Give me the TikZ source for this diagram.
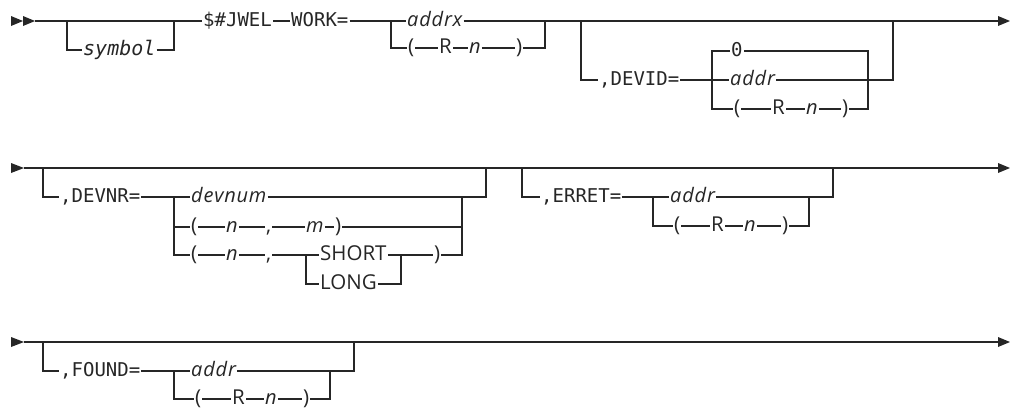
\documentclass[tikz,border=0pt]{standalone}
\usepackage{fontspec}
\setmainfont{Open Sans}
\newfontfamily\monofont{DejaVu Sans Mono}

\begin{document}
\begin{tikzpicture}
		[x=1pt,y=-1pt,line cap=butt,
		%Styles
		rail/.style={line width=1.1pt,draw=railcolor},
		tip/.style={fill=railcolor},
		word/.style={anchor=west,inner xsep=1pt,inner ysep=0pt,text height=11pt,text depth=0pt,text=railcolor},
		key word/.style={word,font={\monofont\fontsize{19}{20}\selectfont}},
		sym word/.style={word,font={\monofont\itshape\fontsize{20}{20}\selectfont}},
		var word/.style={word,font={\itshape\fontsize{20}{20}\selectfont\addfontfeature{LetterSpace=4}}},
		plain word/.style={word,font={\fontsize{20.5}{20}\selectfont}}
		]

		%Colors
		\colorlet{railcolor}{black!85}	%lines and text

		\useasboundingbox (0,0) rectangle (1010,410);

		%Row 1
		\coordinate (start1) at (35,21);
		\coordinate (symL) at (67,21);
		\coordinate (symR) at (174,21);
		\coordinate (addrL) at (391,21);
		\coordinate (addrR) at (545,21);
		\coordinate (devidL) at (581,21);
		\coordinate (devidR) at (893,21);
		\coordinate (zeroL) at (712,80);
		\coordinate (zeroR) at (868,80);
		\coordinate (end1) at (998,21);

		\node[sym word] (symbol) at (82,50) {symbol};
		\node[key word] (jwel) at (202,21) {\$\#JWEL};
		\node[key word] (work) at (290,21) {WORK=};
		\node[var word] (addrx) at (406,21) {addrx};
		\node[plain word] (lpA) at (407,48) {(};
		\node[plain word] (rA) at (438,48) {R};
		\node[var word] (nA) at (468,48) {n};
		\node[plain word] (rpA) at (515,48) {)};
		\node[key word] (devid) at (598,80) {,DEVID=};
		\node[key word] (zero) at (730,51) {0};
		\node[var word] (addrA) at (729,80) {addr};
		\node[plain word] (lpB) at (733,109) {(};
		\node[plain word] (rB) at (771,109) {R};
		\node[var word] (nB) at (805,109) {n};
		\node[plain word] (rpB) at (841,109) {)};

		\fill[tip] (11,16) -- (23,21) -- (11,26) -- cycle;
		\fill[tip] (23,16) -- (start1) -- (23,26) -- cycle;
		\fill[tip] (end1) ++(0,-5) -- ++(12,5) -- ++(-12,5) -- cycle;
		\draw[rail] (start1) -- (jwel.west) (jwel.east) -- (work.west)
			(work.east) -- (addrx.west) (addrx.east) -- (end1);
		\draw[rail] (symL) |- (symbol.west) (symbol.east) -| (symR);
		\draw[rail] (addrL) |- (lpA.west) (lpA.east) -- (rA.west) (rA.east) -- (nA.west)
			(nA.east) -- (rpA.west) (rpA.east) -| (addrR);
		\draw[rail] (devidL) |- (devid.west) (devid.east) -- (addrA.west) (addrA.east) -| (devidR);
		\draw[rail] (zero.west) -| (zeroL) |- (lpB.west) (lpB.east) -- (rB.west) (rB.east) -- (nB.west)
			(nB.east) -- (rpB.west) (rpB.east) -| (zeroR) |- (zero.east);

		%Row 2
		\coordinate (start2) at (24,168);
		\coordinate (devnrL) at (43,168);
		\coordinate (devnrR) at (486,168);
		\coordinate (numL) at (174,227);
		\coordinate (numR) at (462,227);
		\coordinate (lenL) at (306,255);
		\coordinate (lenR) at (401,255);
		\coordinate (erretL) at (522,168);
		\coordinate (erretR) at (833,168);
		\coordinate (errL) at (653,197);
		\coordinate (errR) at (809,197);
		\coordinate (end2) at (998,168);

		\node[key word] (devnr) at (59,197) {,DEVNR=};
		\node[var word] (devnum) at (190,197) {devnum};
		\node[plain word] (lpC) at (190,227) {(};
		\node[var word] (nC) at (225,227) {n};
		\node[plain word] (cmC) at (265,227) {,};
		\node[var word] (mC) at (305,227) {m};
		\node[plain word] (rpC) at (334,227) {)};
		\node[plain word] (lpD) at (190,255) {(};
		\node[var word] (nD) at (225,255) {n};
		\node[plain word] (cmD) at (265,255) {,};
		\node[plain word] (short) at (319,255) {SHORT};
		\node[plain word] (long) at (319,284) {LONG};
		\node[plain word] (rpD) at (433,255) {)};
		\node[key word] (erret) at (540,197) {,ERRET=};
		\node[var word] (addrB) at (669,197) {addr};
		\node[plain word] (lpE) at (673,226) {(};
		\node[plain word] (rE) at (710,226) {R};
		\node[var word] (nE) at (743,226) {n};
		\node[plain word] (rpE) at (781,226) {)};

		\fill[tip] (11,163) -- (start2) -- (11,173) -- cycle;
		\fill[tip] (end2) ++(0,-5) -- ++(12,5) -- ++(-12,5) -- cycle;
		\draw[rail] (start2) -- (end2);
		\draw[rail] (devnrL) |- (devnr.west) (devnr.east) -- (devnum.west) (devnum.east) -| (devnrR);
		\draw[rail] (devnum.west) -| (numL) |- (lpD.west) (numL) -- (lpC.west)
			(lpC.east) -- (nC.west) (nC.east) -- (cmC.west) (cmC.east) -- (mC.west)
			(mC.east) -- (rpC.west) (rpC.east) -- (numR);
		\draw[rail] (lpD.east) -- (nD.west) (nD.east) -- (cmD.west) (cmD.east) -- (short.west)
			(short.east) -- (rpD.west) (rpD.east) -| (numR) |- (devnum.east);
		\draw[rail] (lenL) |- (long.west) (long.east) -| (lenR);
		\draw[rail] (erretL) |- (erret.west) (erret.east) -- (addrB.west) (addrB.east) -| (erretR);
		\draw[rail] (errL) |- (lpE.west) (lpE.east) -- (rE.west) (rE.east) -- (nE.west)
			(nE.east) -- (rpE.west) (rpE.east) -| (errR);

		%Row 3
		\coordinate (start3) at (24,342);
		\coordinate (foundL) at (43,342);
		\coordinate (foundR) at (354,342);
		\coordinate (fndL) at (174,371);
		\coordinate (fndR) at (330,371);
		\coordinate (end3) at (998,342);

		\node[key word] (found) at (59,371) {,FOUND=};
		\node[var word] (addrC) at (190,371) {addr};
		\node[plain word] (lpF) at (194,399) {(};
		\node[plain word] (rF) at (231,399) {R};
		\node[var word] (nF) at (264,399) {n};
		\node[plain word] (rpF) at (302,399) {)};

		\fill[tip] (11,337) -- (start3) -- (11,347) -- cycle;
		\fill[tip] (end3) ++(0,-5) -- ++(12,5) -- ++(-12,5) -- cycle;
		\draw[rail] (start3) -- (end3);
		\draw[rail] (foundL) |- (found.west) (found.east) -- (addrC.west) (addrC.east) -| (foundR);
		\draw[rail] (fndL) |- (lpF.west) (lpF.east) -- (rF.west) (rF.east) -- (nF.west)
			(nF.east) -- (rpF.west) (rpF.east) -| (fndR);
	\end{tikzpicture}
\end{document}
